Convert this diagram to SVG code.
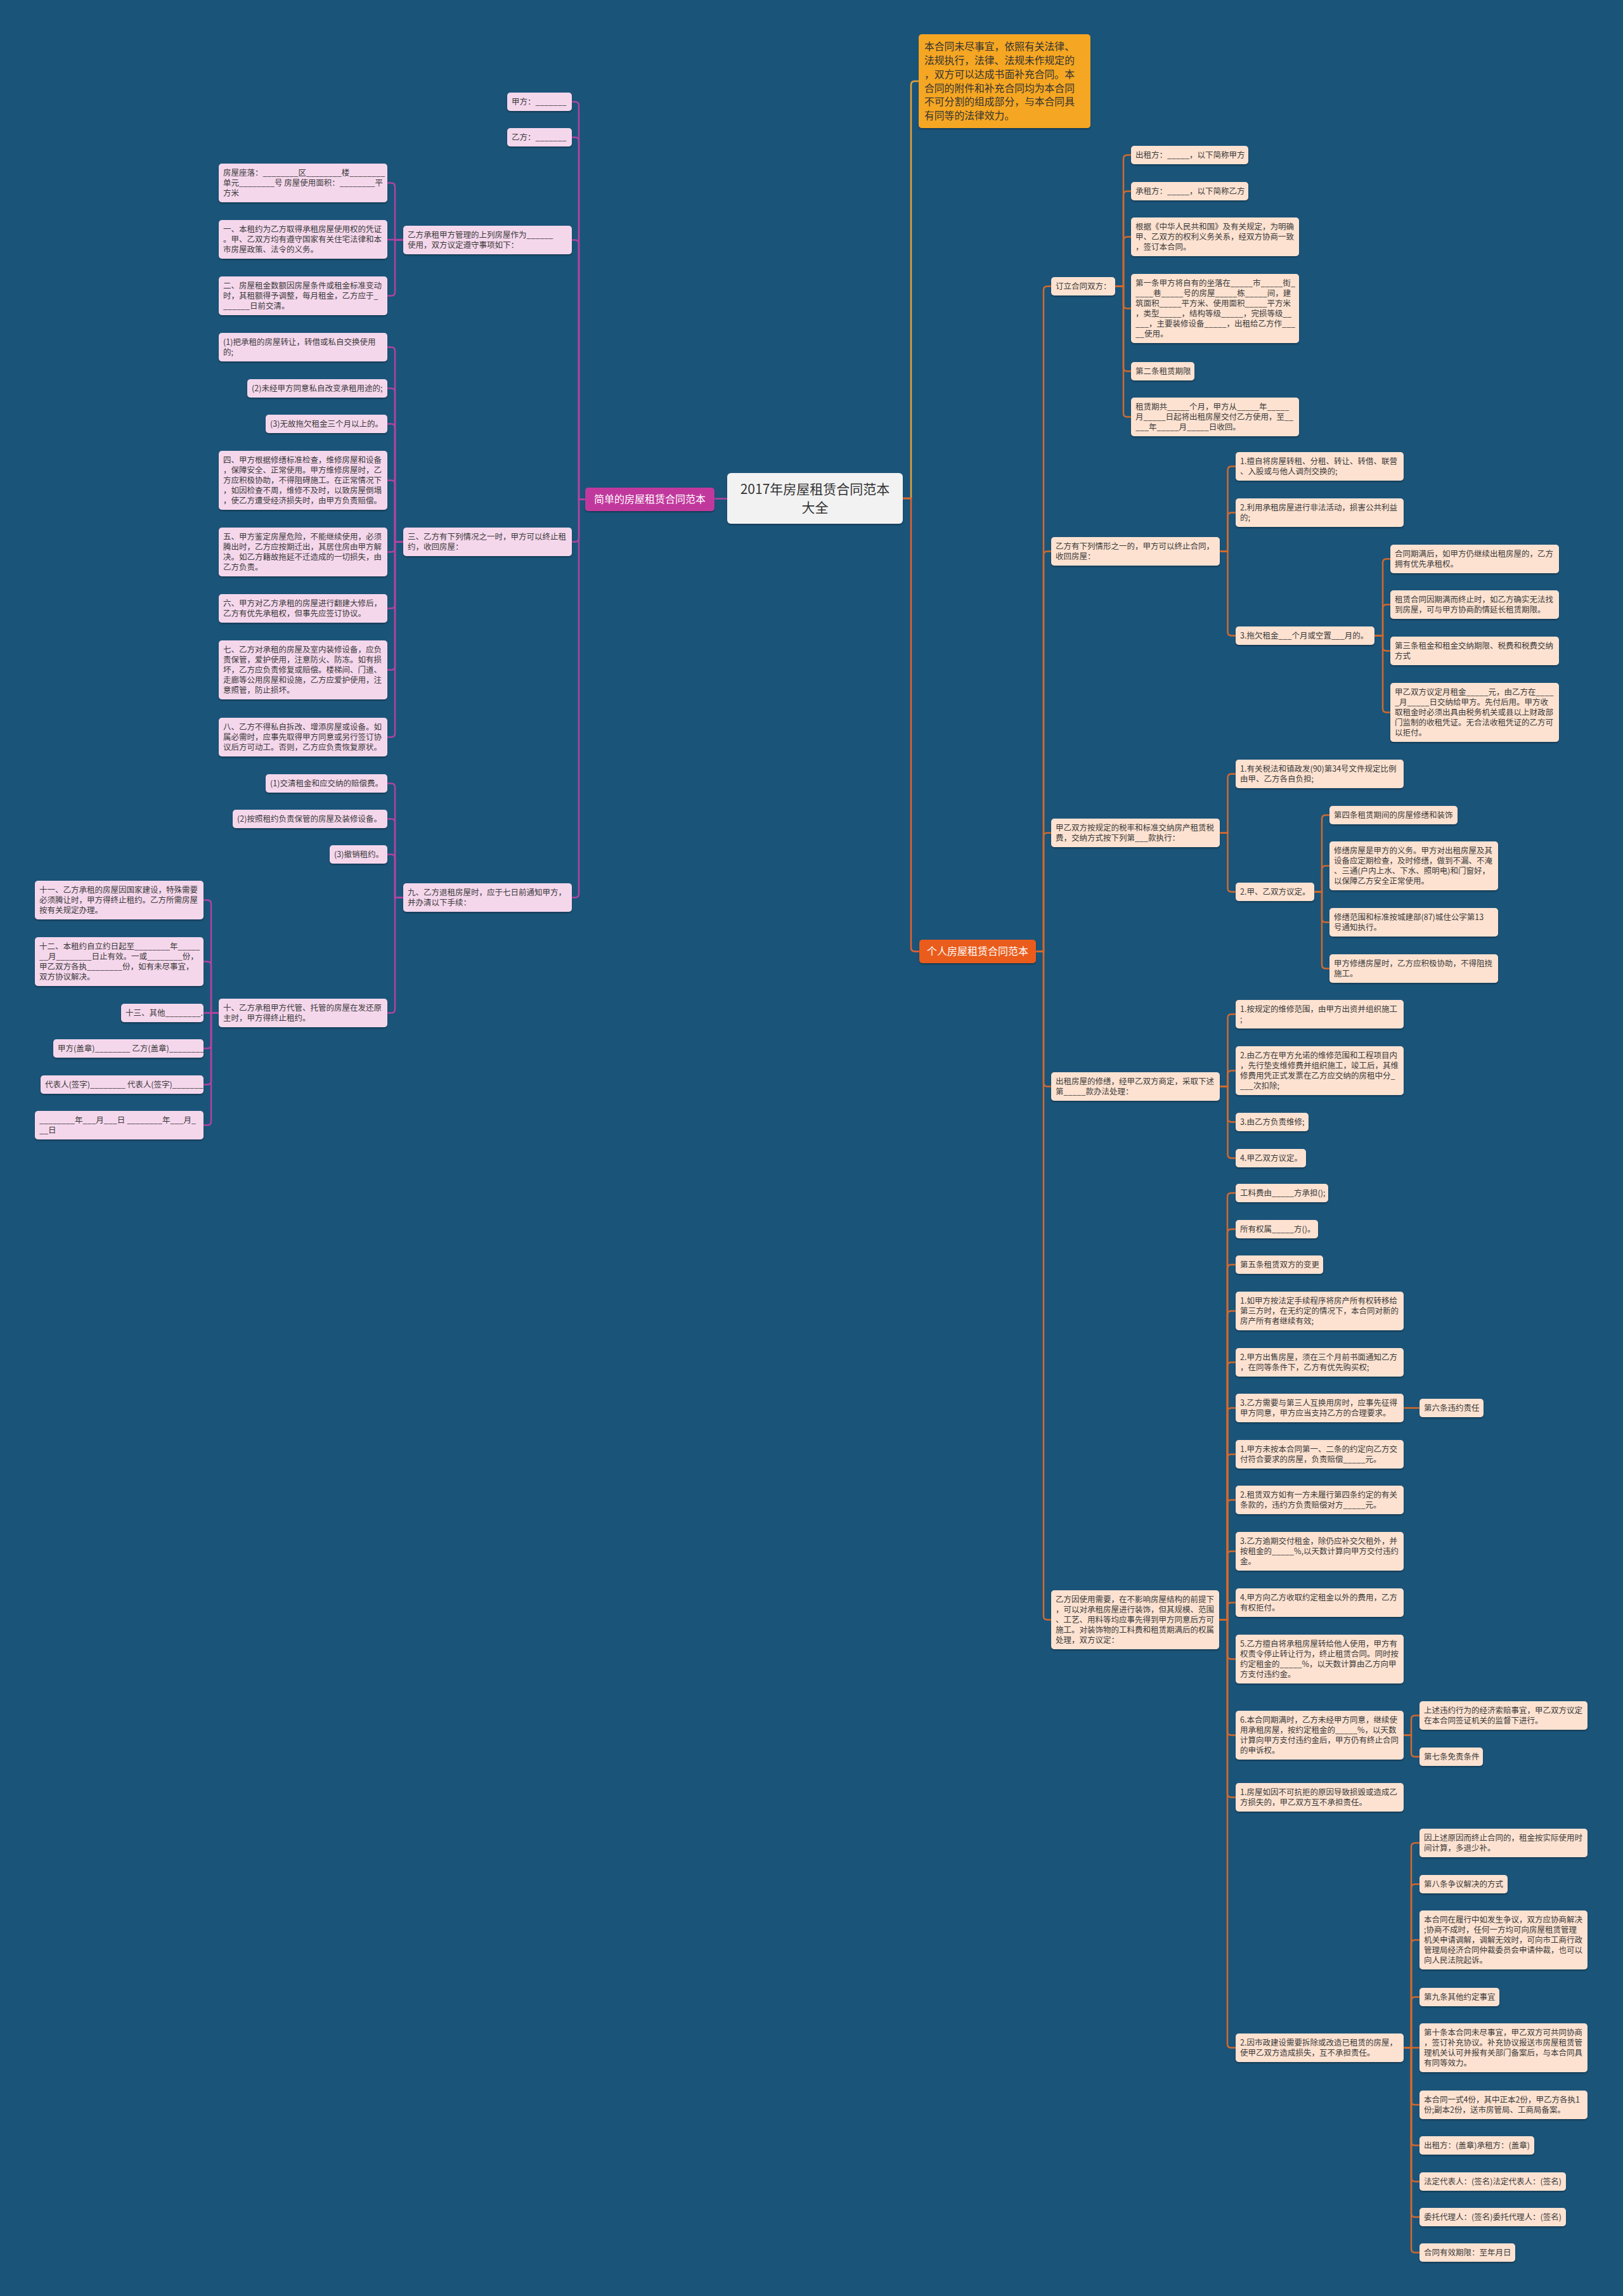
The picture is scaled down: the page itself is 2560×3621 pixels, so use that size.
<svg xmlns="http://www.w3.org/2000/svg" width="2560" height="3621" viewBox="0 0 2560 3621">
<defs>
<filter id="sh" x="-5%" y="-10%" width="110%" height="130%"><feDropShadow dx="0" dy="2" stdDeviation="1" flood-color="#000" flood-opacity="0.3"/></filter>
</defs>
<style>
.t{font-family:"Noto Sans CJK SC","Noto Sans",sans-serif;font-size:12.5px;fill:#3a3a3a}
.pl{fill:#f5d7ec;filter:url(#sh)}
.pr{fill:#fde2d1;filter:url(#sh)}
.cl{fill:none;stroke:#b0449f;stroke-width:2.5}
.cr{fill:none;stroke:#d2692d;stroke-width:2.5}
</style>
<rect x="0" y="0" width="2560" height="3621" fill="#1b5479"/>
<g id="connectors">
<path class="cl" d="M1147 786.5H1127"/>
<path class="cl" d="M923 787.5H913V166.5Q913 160.5 907 160.5H902"/>
<path class="cl" d="M923 787.5H913V222.5Q913 216.5 907 216.5H902"/>
<path class="cl" d="M923 787.5H913V384.5Q913 378.5 907 378.5H902"/>
<path class="cl" d="M923 787.5H913V848.5Q913 854.5 907 854.5H902"/>
<path class="cl" d="M923 787.5H913V1409.5Q913 1415.5 907 1415.5H902"/>
<path class="cl" d="M636 378.5H623V294.5Q623 288.5 617 288.5H611"/>
<path class="cl" d="M636 378H611"/>
<path class="cl" d="M636 378.5H623V460.5Q623 466.5 617 466.5H611"/>
<path class="cl" d="M636 854.5H623V553.5Q623 547.5 617 547.5H611"/>
<path class="cl" d="M636 854.5H623V618.5Q623 612.5 617 612.5H611"/>
<path class="cl" d="M636 854.5H623V674.5Q623 668.5 617 668.5H611"/>
<path class="cl" d="M636 854.5H623V763.5Q623 757.5 617 757.5H611"/>
<path class="cl" d="M636 854.5H623V864.5Q623 870.5 617 870.5H611"/>
<path class="cl" d="M636 854.5H623V953.5Q623 959.5 617 959.5H611"/>
<path class="cl" d="M636 854.5H623V1050.5Q623 1056.5 617 1056.5H611"/>
<path class="cl" d="M636 854.5H623V1156.5Q623 1162.5 617 1162.5H611"/>
<path class="cl" d="M636 1415.5H623V1241.5Q623 1235.5 617 1235.5H611"/>
<path class="cl" d="M636 1415.5H623V1297.5Q623 1291.5 617 1291.5H611"/>
<path class="cl" d="M636 1415.5H623V1353.5Q623 1347.5 617 1347.5H611"/>
<path class="cl" d="M636 1415.5H623V1591.5Q623 1597.5 617 1597.5H611"/>
<path class="cl" d="M345 1597.5H333V1425.5Q333 1419.5 327 1419.5H321"/>
<path class="cl" d="M345 1597.5H333V1522.5Q333 1516.5 327 1516.5H321"/>
<path class="cl" d="M345 1597.5H321"/>
<path class="cl" d="M345 1597.5H333V1647.5Q333 1653.5 327 1653.5H321"/>
<path class="cl" d="M345 1597.5H333V1704.5Q333 1710.5 327 1710.5H321"/>
<path class="cl" d="M345 1597.5H333V1768.5Q333 1774.5 327 1774.5H321"/>
<path fill="none" stroke="#e6a23c" stroke-width="2.5" d="M1424 786H1437V134Q1437 128 1443 128H1449"/>
<path fill="none" stroke="#e8622a" stroke-width="2.5" d="M1424 786H1437V1494.5Q1437 1500.5 1443 1500.5H1450"/>
<path class="cr" d="M1634 1500.5H1646V457.5Q1646 451.5 1652 451.5H1658"/>
<path class="cr" d="M1634 1500.5H1646V875.5Q1646 869.5 1652 869.5H1658"/>
<path class="cr" d="M1634 1500.5H1646V1319.5Q1646 1313.5 1652 1313.5H1658"/>
<path class="cr" d="M1634 1500.5H1646V1707.5Q1646 1713.5 1652 1713.5H1658"/>
<path class="cr" d="M1634 1500.5H1646V2548.5Q1646 2554.5 1652 2554.5H1658"/>
<path class="cr" d="M1759 451.5H1772V250.5Q1772 244.5 1778 244.5H1784"/>
<path class="cr" d="M1759 451.5H1772V307.5Q1772 301.5 1778 301.5H1784"/>
<path class="cr" d="M1759 451.5H1772V379.5Q1772 373.5 1778 373.5H1784"/>
<path class="cr" d="M1759 451.5H1772V480.5Q1772 486.5 1778 486.5H1784"/>
<path class="cr" d="M1759 451.5H1772V579.5Q1772 585.5 1778 585.5H1784"/>
<path class="cr" d="M1759 451.5H1772V651.5Q1772 657.5 1778 657.5H1784"/>
<path class="cr" d="M1924 869.5H1936.5V741.5Q1936.5 735.5 1942.5 735.5H1949"/>
<path class="cr" d="M1924 869.5H1936.5V814.5Q1936.5 808.5 1942.5 808.5H1949"/>
<path class="cr" d="M1924 869.5H1936.5V996.5Q1936.5 1002.5 1942.5 1002.5H1949"/>
<path class="cr" d="M2168 1002.5H2181V887.5Q2181 881.5 2187 881.5H2193"/>
<path class="cr" d="M2168 1002.5H2181V959.5Q2181 953.5 2187 953.5H2193"/>
<path class="cr" d="M2168 1002.5H2181V1020.5Q2181 1026.5 2187 1026.5H2193"/>
<path class="cr" d="M2168 1002.5H2181V1117.5Q2181 1123.5 2187 1123.5H2193"/>
<path class="cr" d="M1924 1313.5H1936.5V1226.5Q1936.5 1220.5 1942.5 1220.5H1949"/>
<path class="cr" d="M1924 1313.5H1936.5V1400.5Q1936.5 1406.5 1942.5 1406.5H1949"/>
<path class="cr" d="M2073 1406.5H2085V1291.5Q2085 1285.5 2091 1285.5H2097"/>
<path class="cr" d="M2073 1406.5H2085V1371.5Q2085 1365.5 2091 1365.5H2097"/>
<path class="cr" d="M2073 1406.5H2085V1448.5Q2085 1454.5 2091 1454.5H2097"/>
<path class="cr" d="M2073 1406.5H2085V1521.5Q2085 1527.5 2091 1527.5H2097"/>
<path class="cr" d="M1924 1713.5H1936.5V1605.5Q1936.5 1599.5 1942.5 1599.5H1949"/>
<path class="cr" d="M1924 1713.5H1936.5V1694.5Q1936.5 1688.5 1942.5 1688.5H1949"/>
<path class="cr" d="M1924 1713.5H1936.5V1763.5Q1936.5 1769.5 1942.5 1769.5H1949"/>
<path class="cr" d="M1924 1713.5H1936.5V1820.5Q1936.5 1826.5 1942.5 1826.5H1949"/>
<path class="cr" d="M1923 2554.5H1936V1887.5Q1936 1881.5 1942 1881.5H1949"/>
<path class="cr" d="M1923 2554.5H1936V1944.5Q1936 1938.5 1942 1938.5H1949"/>
<path class="cr" d="M1923 2554.5H1936V2000.5Q1936 1994.5 1942 1994.5H1949"/>
<path class="cr" d="M1923 2554.5H1936V2073.5Q1936 2067.5 1942 2067.5H1949"/>
<path class="cr" d="M1923 2554.5H1936V2154.5Q1936 2148.5 1942 2148.5H1949"/>
<path class="cr" d="M1923 2554.5H1936V2226.5Q1936 2220.5 1942 2220.5H1949"/>
<path class="cr" d="M1923 2554.5H1936V2299.5Q1936 2293.5 1942 2293.5H1949"/>
<path class="cr" d="M1923 2554.5H1936V2371.5Q1936 2365.5 1942 2365.5H1949"/>
<path class="cr" d="M1923 2554.5H1936V2452.5Q1936 2446.5 1942 2446.5H1949"/>
<path class="cr" d="M1923 2554.5H1936V2533.5Q1936 2527.5 1942 2527.5H1949"/>
<path class="cr" d="M1923 2554.5H1936V2610.5Q1936 2616.5 1942 2616.5H1949"/>
<path class="cr" d="M1923 2554.5H1936V2730.5Q1936 2736.5 1942 2736.5H1949"/>
<path class="cr" d="M1923 2554.5H1936V2828.5Q1936 2834.5 1942 2834.5H1949"/>
<path class="cr" d="M1923 2554.5H1936V3223.5Q1936 3229.5 1942 3229.5H1949"/>
<path class="cr" d="M2214 2220.5H2239"/>
<path class="cr" d="M2214 2736.5H2226V2711.5Q2226 2705.5 2232 2705.5H2239"/>
<path class="cr" d="M2214 2736.5H2226V2764.5Q2226 2770.5 2232 2770.5H2239"/>
<path class="cr" d="M2214 3229.5H2226V2912.5Q2226 2906.5 2232 2906.5H2239"/>
<path class="cr" d="M2214 3229.5H2226V2977.5Q2226 2971.5 2232 2971.5H2239"/>
<path class="cr" d="M2214 3229.5H2226V3065.5Q2226 3059.5 2232 3059.5H2239"/>
<path class="cr" d="M2214 3229.5H2226V3155.5Q2226 3149.5 2232 3149.5H2239"/>
<path class="cr" d="M2214 3229.5H2239"/>
<path class="cr" d="M2214 3229.5H2226V3313.5Q2226 3319.5 2232 3319.5H2239"/>
<path class="cr" d="M2214 3229.5H2226V3377.5Q2226 3383.5 2232 3383.5H2239"/>
<path class="cr" d="M2214 3229.5H2226V3434.5Q2226 3440.5 2232 3440.5H2239"/>
<path class="cr" d="M2214 3229.5H2226V3490.5Q2226 3496.5 2232 3496.5H2239"/>
<path class="cr" d="M2214 3229.5H2226V3546.5Q2226 3552.5 2232 3552.5H2239"/>
</g>
<g id="root"><rect x="1147" y="746" width="277" height="80" rx="6" fill="#f2f2f2" filter="url(#sh)"/><text class="t" style="font-size:21px;fill:#333" text-anchor="middle"><tspan x="1285.5" y="779">2017年房屋租赁合同范本</tspan><tspan x="1285.5" y="808">大全</tspan></text></g>
<g id="left-main"><rect x="923" y="769" width="204" height="37" rx="5" fill="#c1399d" filter="url(#sh)"/><text class="t" style="font-size:16px;fill:#fff" x="1025" y="793" text-anchor="middle">简单的房屋租赁合同范本</text></g>
<g id="right-main"><rect x="1450" y="1482" width="184" height="37" rx="5" fill="#ea5b1d" filter="url(#sh)"/><text class="t" style="font-size:16px;fill:#fff" x="1542" y="1506" text-anchor="middle">个人房屋租赁合同范本</text></g>
<g id="note"><rect x="1449" y="54" width="271" height="148" rx="5" fill="#f5a623" filter="url(#sh)"/><text class="t" style="font-size:15.8px;fill:#333"><tspan x="1458" y="79">本合同未尽事宜，依照有关法律、</tspan><tspan x="1458" y="101">法规执行，法律、法规未作规定的</tspan><tspan x="1458" y="123">，双方可以达成书面补充合同。本</tspan><tspan x="1458" y="145">合同的附件和补充合同均为本合同</tspan><tspan x="1458" y="166">不可分割的组成部分，与本合同具</tspan><tspan x="1458" y="188">有同等的法律效力。</tspan></text></g>

<g id="L1"><rect class="pl" x="800" y="146" width="102" height="29" rx="5"/><text class="t" x="807" y="165">甲方：_______</text></g>
<g id="L2"><rect class="pl" x="800" y="202" width="102" height="29" rx="5"/><text class="t" x="807" y="221">乙方：_______</text></g>
<g id="L3"><rect class="pl" x="636" y="356" width="266" height="45" rx="5"/><text class="t"><tspan x="643" y="375">乙方承租甲方管理的上列房屋作为______</tspan><tspan x="643" y="391">使用，双方议定遵守事项如下：</tspan></text></g>
<g id="L4"><rect class="pl" x="636" y="832" width="266" height="45" rx="5"/><text class="t"><tspan x="643" y="851">三、乙方有下列情况之一时，甲方可以终止租</tspan><tspan x="643" y="867">约，收回房屋：</tspan></text></g>
<g id="L5"><rect class="pl" x="636" y="1393" width="266" height="45" rx="5"/><text class="t"><tspan x="643" y="1412">九、乙方退租房屋时，应于七日前通知甲方，</tspan><tspan x="643" y="1428">并办清以下手续：</tspan></text></g>
<g id="L3a"><rect class="pl" x="345" y="258" width="266" height="61" rx="5"/><text class="t"><tspan x="352" y="277">房屋座落：________区________楼________</tspan><tspan x="352" y="293">单元________号 房屋使用面积：________平</tspan><tspan x="352" y="309">方米</tspan></text></g>
<g id="L3b"><rect class="pl" x="345" y="347" width="266" height="61" rx="5"/><text class="t"><tspan x="352" y="366">一、本租约为乙方取得承租房屋使用权的凭证</tspan><tspan x="352" y="382">。甲、乙双方均有遵守国家有关住宅法律和本</tspan><tspan x="352" y="398">市房屋政策、法令的义务。</tspan></text></g>
<g id="L3c"><rect class="pl" x="345" y="436" width="266" height="61" rx="5"/><text class="t"><tspan x="352" y="455">二、房屋租金数额因房屋条件或租金标准变动</tspan><tspan x="352" y="471">时，其租额得予调整，每月租金，乙方应于_</tspan><tspan x="352" y="487">______日前交清。</tspan></text></g>
<g id="L4a"><rect class="pl" x="345" y="525" width="266" height="45" rx="5"/><text class="t"><tspan x="352" y="544">(1)把承租的房屋转让，转借或私自交换使用</tspan><tspan x="352" y="560">的;</tspan></text></g>
<g id="L4b"><rect class="pl" x="390" y="598" width="221" height="29" rx="5"/><text class="t" x="397" y="617">(2)未经甲方同意私自改变承租用途的;</text></g>
<g id="L4c"><rect class="pl" x="419" y="654" width="192" height="29" rx="5"/><text class="t" x="426" y="673">(3)无故拖欠租金三个月以上的。</text></g>
<g id="L4d"><rect class="pl" x="345" y="711" width="266" height="93" rx="5"/><text class="t"><tspan x="352" y="730">四、甲方根据修缮标准检查，维修房屋和设备</tspan><tspan x="352" y="746">，保障安全、正常使用。甲方维修房屋时，乙</tspan><tspan x="352" y="762">方应积极协助，不得阻碍施工。在正常情况下</tspan><tspan x="352" y="778">，如因检查不周，维修不及时，以致房屋倒塌</tspan><tspan x="352" y="794">，使乙方遭受经济损失时，由甲方负责赔偿。</tspan></text></g>
<g id="L4e"><rect class="pl" x="345" y="832" width="266" height="77" rx="5"/><text class="t"><tspan x="352" y="851">五、甲方鉴定房屋危险，不能继续使用，必须</tspan><tspan x="352" y="867">腾出时，乙方应按期迁出，其居住房由甲方解</tspan><tspan x="352" y="883">决。如乙方籍故拖延不迁造成的一切损失，由</tspan><tspan x="352" y="899">乙方负责。</tspan></text></g>
<g id="L4f"><rect class="pl" x="345" y="937" width="266" height="45" rx="5"/><text class="t"><tspan x="352" y="956">六、甲方对乙方承租的房屋进行翻建大修后，</tspan><tspan x="352" y="972">乙方有优先承租权，但事先应签订协议。</tspan></text></g>
<g id="L4g"><rect class="pl" x="345" y="1010" width="266" height="93" rx="5"/><text class="t"><tspan x="352" y="1029">七、乙方对承租的房屋及室内装修设备，应负</tspan><tspan x="352" y="1045">责保管，爱护使用，注意防火、防冻。如有损</tspan><tspan x="352" y="1061">坏，乙方应负责修复或赔偿。楼梯间、门道、</tspan><tspan x="352" y="1077">走廊等公用房屋和设施，乙方应爱护使用，注</tspan><tspan x="352" y="1093">意照管，防止损坏。</tspan></text></g>
<g id="L4h"><rect class="pl" x="345" y="1132" width="266" height="61" rx="5"/><text class="t"><tspan x="352" y="1151">八、乙方不得私自拆改、增添房屋或设备。如</tspan><tspan x="352" y="1167">属必需时，应事先取得甲方同意或另行签订协</tspan><tspan x="352" y="1183">议后方可动工。否则，乙方应负责恢复原状。</tspan></text></g>
<g id="L5a"><rect class="pl" x="419" y="1221" width="192" height="29" rx="5"/><text class="t" x="426" y="1240">(1)交清租金和应交纳的赔偿费。</text></g>
<g id="L5b"><rect class="pl" x="367" y="1277" width="244" height="29" rx="5"/><text class="t" x="374" y="1296">(2)按照租约负责保管的房屋及装修设备。</text></g>
<g id="L5c"><rect class="pl" x="520" y="1333" width="91" height="29" rx="5"/><text class="t" x="527" y="1352">(3)撤销租约。</text></g>
<g id="L5d"><rect class="pl" x="345" y="1575" width="266" height="45" rx="5"/><text class="t"><tspan x="352" y="1594">十、乙方承租甲方代管、托管的房屋在发还原</tspan><tspan x="352" y="1610">主时，甲方得终止租约。</tspan></text></g>
<g id="L6a"><rect class="pl" x="55" y="1389" width="266" height="61" rx="5"/><text class="t"><tspan x="62" y="1408">十一、乙方承租的房屋因国家建设，特殊需要</tspan><tspan x="62" y="1424">必须腾让时，甲方得终止租约。乙方所需房屋</tspan><tspan x="62" y="1440">按有关规定办理。</tspan></text></g>
<g id="L6b"><rect class="pl" x="55" y="1478" width="266" height="77" rx="5"/><text class="t"><tspan x="62" y="1497">十二、本租约自立约日起至________年_____</tspan><tspan x="62" y="1513">__月________日止有效。一或________份，</tspan><tspan x="62" y="1529">甲乙双方各执________份，如有未尽事宜，</tspan><tspan x="62" y="1545">双方协议解决。</tspan></text></g>
<g id="L6c"><rect class="pl" x="191" y="1583" width="130" height="29" rx="5"/><text class="t" x="198" y="1602">十三、其他________.</text></g>
<g id="L6d"><rect class="pl" x="84" y="1639" width="237" height="29" rx="5"/><text class="t" x="91" y="1658">甲方(盖章)________ 乙方(盖章)________</text></g>
<g id="L6e"><rect class="pl" x="64" y="1696" width="257" height="29" rx="5"/><text class="t" x="71" y="1715">代表人(签字)________ 代表人(签字)_______</text></g>
<g id="L6f"><rect class="pl" x="55" y="1752" width="266" height="45" rx="5"/><text class="t"><tspan x="62" y="1771">________年___月___日 ________年___月_</tspan><tspan x="62" y="1787">__日</tspan></text></g>

<g id="R1"><rect class="pr" x="1658" y="437" width="101" height="29" rx="5"/><text class="t" x="1665" y="456">订立合同双方：</text></g>
<g id="R1a"><rect class="pr" x="1784" y="230" width="185" height="29" rx="5"/><text class="t" x="1791" y="249">出租方：_____，以下简称甲方</text></g>
<g id="R1b"><rect class="pr" x="1784" y="287" width="185" height="29" rx="5"/><text class="t" x="1791" y="306">承租方：_____，以下简称乙方</text></g>
<g id="R1c"><rect class="pr" x="1784" y="343" width="265" height="61" rx="5"/><text class="t"><tspan x="1791" y="362">根据《中华人民共和国》及有关规定，为明确</tspan><tspan x="1791" y="378">甲、乙双方的权利义务关系，经双方协商一致</tspan><tspan x="1791" y="394">，签订本合同。</tspan></text></g>
<g id="R1d"><rect class="pr" x="1784" y="432" width="265" height="109" rx="5"/><text class="t"><tspan x="1791" y="451">第一条甲方将自有的坐落在_____市_____街_</tspan><tspan x="1791" y="467">____巷_____号的房屋_____栋_____间，建</tspan><tspan x="1791" y="483">筑面积_____平方米、使用面积_____平方米</tspan><tspan x="1791" y="499">，类型_____，结构等级_____，完损等级__</tspan><tspan x="1791" y="515">___，主要装修设备_____，出租给乙方作___</tspan><tspan x="1791" y="531">__使用。</tspan></text></g>
<g id="R1e"><rect class="pr" x="1784" y="571" width="100" height="29" rx="5"/><text class="t" x="1791" y="590">第二条租赁期限</text></g>
<g id="R1f"><rect class="pr" x="1784" y="627" width="265" height="61" rx="5"/><text class="t"><tspan x="1791" y="646">租赁期共_____个月，甲方从_____年_____</tspan><tspan x="1791" y="662">月_____日起将出租房屋交付乙方使用，至__</tspan><tspan x="1791" y="678">___年_____月_____日收回。</tspan></text></g>
<g id="R2"><rect class="pr" x="1658" y="847" width="266" height="45" rx="5"/><text class="t"><tspan x="1665" y="866">乙方有下列情形之一的，甲方可以终止合同，</tspan><tspan x="1665" y="882">收回房屋：</tspan></text></g>
<g id="R2a"><rect class="pr" x="1949" y="713" width="265" height="45" rx="5"/><text class="t"><tspan x="1956" y="732">1.擅自将房屋转租、分租、转让、转借、联营</tspan><tspan x="1956" y="748">、入股或与他人调剂交换的;</tspan></text></g>
<g id="R2b"><rect class="pr" x="1949" y="786" width="265" height="45" rx="5"/><text class="t"><tspan x="1956" y="805">2.利用承租房屋进行非法活动，损害公共利益</tspan><tspan x="1956" y="821">的;</tspan></text></g>
<g id="R2c"><rect class="pr" x="1949" y="988" width="219" height="29" rx="5"/><text class="t" x="1956" y="1007">3.拖欠租金___个月或空置___月的。</text></g>
<g id="R2c1"><rect class="pr" x="2193" y="859" width="266" height="45" rx="5"/><text class="t"><tspan x="2200" y="878">合同期满后，如甲方仍继续出租房屋的，乙方</tspan><tspan x="2200" y="894">拥有优先承租权。</tspan></text></g>
<g id="R2c2"><rect class="pr" x="2193" y="931" width="266" height="45" rx="5"/><text class="t"><tspan x="2200" y="950">租赁合同因期满而终止时，如乙方确实无法找</tspan><tspan x="2200" y="966">到房屋，可与甲方协商酌情延长租赁期限。</tspan></text></g>
<g id="R2c3"><rect class="pr" x="2193" y="1004" width="266" height="45" rx="5"/><text class="t"><tspan x="2200" y="1023">第三条租金和租金交纳期限、税费和税费交纳</tspan><tspan x="2200" y="1039">方式</tspan></text></g>
<g id="R2c4"><rect class="pr" x="2193" y="1077" width="266" height="93" rx="5"/><text class="t"><tspan x="2200" y="1096">甲乙双方议定月租金_____元，由乙方在____</tspan><tspan x="2200" y="1112">_月_____日交纳给甲方。先付后用。甲方收</tspan><tspan x="2200" y="1128">取租金时必须出具由税务机关或县以上财政部</tspan><tspan x="2200" y="1144">门监制的收租凭证。无合法收租凭证的乙方可</tspan><tspan x="2200" y="1160">以拒付。</tspan></text></g>
<g id="R3"><rect class="pr" x="1658" y="1291" width="266" height="45" rx="5"/><text class="t"><tspan x="1665" y="1310">甲乙双方按规定的税率和标准交纳房产租赁税</tspan><tspan x="1665" y="1326">费，交纳方式按下列第___款执行：</tspan></text></g>
<g id="R3a"><rect class="pr" x="1949" y="1198" width="265" height="45" rx="5"/><text class="t"><tspan x="1956" y="1217">1.有关税法和镇政发(90)第34号文件规定比例</tspan><tspan x="1956" y="1233">由甲、乙方各自负担;</tspan></text></g>
<g id="R3b"><rect class="pr" x="1949" y="1392" width="124" height="29" rx="5"/><text class="t" x="1956" y="1411">2.甲、乙双方议定。</text></g>
<g id="R3b1"><rect class="pr" x="2097" y="1271" width="202" height="29" rx="5"/><text class="t" x="2104" y="1290">第四条租赁期间的房屋修缮和装饰</text></g>
<g id="R3b2"><rect class="pr" x="2097" y="1327" width="266" height="77" rx="5"/><text class="t"><tspan x="2104" y="1346">修缮房屋是甲方的义务。甲方对出租房屋及其</tspan><tspan x="2104" y="1362">设备应定期检查，及时修缮，做到不漏、不淹</tspan><tspan x="2104" y="1378">、三通(户内上水、下水、照明电)和门窗好，</tspan><tspan x="2104" y="1394">以保障乙方安全正常使用。</tspan></text></g>
<g id="R3b3"><rect class="pr" x="2097" y="1432" width="266" height="45" rx="5"/><text class="t"><tspan x="2104" y="1451">修缮范围和标准按城建部(87)城住公字第13</tspan><tspan x="2104" y="1467">号通知执行。</tspan></text></g>
<g id="R3b4"><rect class="pr" x="2097" y="1505" width="266" height="45" rx="5"/><text class="t"><tspan x="2104" y="1524">甲方修缮房屋时，乙方应积极协助，不得阻挠</tspan><tspan x="2104" y="1540">施工。</tspan></text></g>
<g id="R4"><rect class="pr" x="1658" y="1691" width="266" height="45" rx="5"/><text class="t"><tspan x="1665" y="1710">出租房屋的修缮，经甲乙双方商定，采取下述</tspan><tspan x="1665" y="1726">第_____款办法处理：</tspan></text></g>
<g id="R4a"><rect class="pr" x="1949" y="1577" width="265" height="45" rx="5"/><text class="t"><tspan x="1956" y="1596">1.按规定的维修范围，由甲方出资并组织施工</tspan><tspan x="1956" y="1612">;</tspan></text></g>
<g id="R4b"><rect class="pr" x="1949" y="1650" width="265" height="77" rx="5"/><text class="t"><tspan x="1956" y="1669">2.由乙方在甲方允诺的维修范围和工程项目内</tspan><tspan x="1956" y="1685">，先行垫支维修费并组织施工，竣工后，其维</tspan><tspan x="1956" y="1701">修费用凭正式发票在乙方应交纳的房租中分_</tspan><tspan x="1956" y="1717">___次扣除;</tspan></text></g>
<g id="R4c"><rect class="pr" x="1949" y="1755" width="115" height="29" rx="5"/><text class="t" x="1956" y="1774">3.由乙方负责维修;</text></g>
<g id="R4d"><rect class="pr" x="1949" y="1812" width="111" height="29" rx="5"/><text class="t" x="1956" y="1831">4.甲乙双方议定。</text></g>
<g id="R5"><rect class="pr" x="1658" y="2508" width="265" height="93" rx="5"/><text class="t"><tspan x="1665" y="2527">乙方因使用需要，在不影响房屋结构的前提下</tspan><tspan x="1665" y="2543">，可以对承租房屋进行装饰，但其规模、范围</tspan><tspan x="1665" y="2559">、工艺、用料等均应事先得到甲方同意后方可</tspan><tspan x="1665" y="2575">施工。对装饰物的工料费和租赁期满后的权属</tspan><tspan x="1665" y="2591">处理，双方议定：</tspan></text></g>
<g id="R5a"><rect class="pr" x="1949" y="1867" width="146" height="29" rx="5"/><text class="t" x="1956" y="1886">工料费由_____方承担();</text></g>
<g id="R5b"><rect class="pr" x="1949" y="1924" width="130" height="29" rx="5"/><text class="t" x="1956" y="1943">所有权属_____方()。</text></g>
<g id="R5c"><rect class="pr" x="1949" y="1980" width="138" height="29" rx="5"/><text class="t" x="1956" y="1999">第五条租赁双方的变更</text></g>
<g id="R5d"><rect class="pr" x="1949" y="2037" width="265" height="61" rx="5"/><text class="t"><tspan x="1956" y="2056">1.如甲方按法定手续程序将房产所有权转移给</tspan><tspan x="1956" y="2072">第三方时，在无约定的情况下，本合同对新的</tspan><tspan x="1956" y="2088">房产所有者继续有效;</tspan></text></g>
<g id="R5e"><rect class="pr" x="1949" y="2126" width="265" height="45" rx="5"/><text class="t"><tspan x="1956" y="2145">2.甲方出售房屋，须在三个月前书面通知乙方</tspan><tspan x="1956" y="2161">，在同等条件下，乙方有优先购买权;</tspan></text></g>
<g id="R5f"><rect class="pr" x="1949" y="2198" width="265" height="45" rx="5"/><text class="t"><tspan x="1956" y="2217">3.乙方需要与第三人互换用房时，应事先征得</tspan><tspan x="1956" y="2233">甲方同意，甲方应当支持乙方的合理要求。</tspan></text></g>
<g id="R5f1"><rect class="pr" x="2239" y="2206" width="101" height="29" rx="5"/><text class="t" x="2246" y="2225">第六条违约责任</text></g>
<g id="R5g"><rect class="pr" x="1949" y="2271" width="265" height="45" rx="5"/><text class="t"><tspan x="1956" y="2290">1.甲方未按本合同第一、二条的约定向乙方交</tspan><tspan x="1956" y="2306">付符合要求的房屋，负责赔偿_____元。</tspan></text></g>
<g id="R5h"><rect class="pr" x="1949" y="2343" width="265" height="45" rx="5"/><text class="t"><tspan x="1956" y="2362">2.租赁双方如有一方未履行第四条约定的有关</tspan><tspan x="1956" y="2378">条款的，违约方负责赔偿对方_____元。</tspan></text></g>
<g id="R5i"><rect class="pr" x="1949" y="2416" width="265" height="61" rx="5"/><text class="t"><tspan x="1956" y="2435">3.乙方逾期交付租金，除仍应补交欠租外，并</tspan><tspan x="1956" y="2451">按租金的_____%,以天数计算向甲方交付违约</tspan><tspan x="1956" y="2467">金。</tspan></text></g>
<g id="R5j"><rect class="pr" x="1949" y="2505" width="265" height="45" rx="5"/><text class="t"><tspan x="1956" y="2524">4.甲方向乙方收取约定租金以外的费用，乙方</tspan><tspan x="1956" y="2540">有权拒付。</tspan></text></g>
<g id="R5k"><rect class="pr" x="1949" y="2578" width="265" height="77" rx="5"/><text class="t"><tspan x="1956" y="2597">5.乙方擅自将承租房屋转给他人使用，甲方有</tspan><tspan x="1956" y="2613">权责令停止转让行为，终止租赁合同。同时按</tspan><tspan x="1956" y="2629">约定租金的_____%，以天数计算由乙方向甲</tspan><tspan x="1956" y="2645">方支付违约金。</tspan></text></g>
<g id="R5l"><rect class="pr" x="1949" y="2698" width="265" height="77" rx="5"/><text class="t"><tspan x="1956" y="2717">6.本合同期满时，乙方未经甲方同意，继续使</tspan><tspan x="1956" y="2733">用承租房屋，按约定租金的_____%，以天数</tspan><tspan x="1956" y="2749">计算向甲方支付违约金后，甲方仍有终止合同</tspan><tspan x="1956" y="2765">的申诉权。</tspan></text></g>
<g id="R5l1"><rect class="pr" x="2239" y="2683" width="265" height="45" rx="5"/><text class="t"><tspan x="2246" y="2702">上述违约行为的经济索赔事宜，甲乙双方议定</tspan><tspan x="2246" y="2718">在本合同签证机关的监督下进行。</tspan></text></g>
<g id="R5l2"><rect class="pr" x="2239" y="2756" width="100" height="29" rx="5"/><text class="t" x="2246" y="2775">第七条免责条件</text></g>
<g id="R5m"><rect class="pr" x="1949" y="2812" width="265" height="45" rx="5"/><text class="t"><tspan x="1956" y="2831">1.房屋如因不可抗拒的原因导致损毁或造成乙</tspan><tspan x="1956" y="2847">方损失的，甲乙双方互不承担责任。</tspan></text></g>
<g id="R5n"><rect class="pr" x="1949" y="3207" width="265" height="45" rx="5"/><text class="t"><tspan x="1956" y="3226">2.因市政建设需要拆除或改造已租赁的房屋，</tspan><tspan x="1956" y="3242">使甲乙双方造成损失，互不承担责任。</tspan></text></g>
<g id="R5n1"><rect class="pr" x="2239" y="2884" width="265" height="45" rx="5"/><text class="t"><tspan x="2246" y="2903">因上述原因而终止合同的，租金按实际使用时</tspan><tspan x="2246" y="2919">间计算，多退少补。</tspan></text></g>
<g id="R5n2"><rect class="pr" x="2239" y="2957" width="139" height="29" rx="5"/><text class="t" x="2246" y="2976">第八条争议解决的方式</text></g>
<g id="R5n3"><rect class="pr" x="2239" y="3013" width="265" height="93" rx="5"/><text class="t"><tspan x="2246" y="3032">本合同在履行中如发生争议，双方应协商解决</tspan><tspan x="2246" y="3048">;协商不成时，任何一方均可向房屋租赁管理</tspan><tspan x="2246" y="3064">机关申请调解，调解无效时，可向市工商行政</tspan><tspan x="2246" y="3080">管理局经济合同仲裁委员会申请仲裁，也可以</tspan><tspan x="2246" y="3096">向人民法院起诉。</tspan></text></g>
<g id="R5n4"><rect class="pr" x="2239" y="3135" width="126" height="29" rx="5"/><text class="t" x="2246" y="3154">第九条其他约定事宜</text></g>
<g id="R5n5"><rect class="pr" x="2239" y="3191" width="265" height="77" rx="5"/><text class="t"><tspan x="2246" y="3210">第十条本合同未尽事宜，甲乙双方可共同协商</tspan><tspan x="2246" y="3226">，签订补充协议。补充协议报送市房屋租赁管</tspan><tspan x="2246" y="3242">理机关认可并报有关部门备案后，与本合同具</tspan><tspan x="2246" y="3258">有同等效力。</tspan></text></g>
<g id="R5n6"><rect class="pr" x="2239" y="3297" width="265" height="45" rx="5"/><text class="t"><tspan x="2246" y="3316">本合同一式4份，其中正本2份，甲乙方各执1</tspan><tspan x="2246" y="3332">份;副本2份，送市房管局、工商局备案。</tspan></text></g>
<g id="R5n7"><rect class="pr" x="2239" y="3369" width="181" height="29" rx="5"/><text class="t" x="2246" y="3388">出租方：(盖章)承租方：(盖章)</text></g>
<g id="R5n8"><rect class="pr" x="2239" y="3426" width="231" height="29" rx="5"/><text class="t" x="2246" y="3445">法定代表人：(签名)法定代表人：(签名)</text></g>
<g id="R5n9"><rect class="pr" x="2239" y="3482" width="231" height="29" rx="5"/><text class="t" x="2246" y="3501">委托代理人：(签名)委托代理人：(签名)</text></g>
<g id="R5n10"><rect class="pr" x="2239" y="3538" width="151" height="29" rx="5"/><text class="t" x="2246" y="3557">合同有效期限：至年月日</text></g>
</svg>
